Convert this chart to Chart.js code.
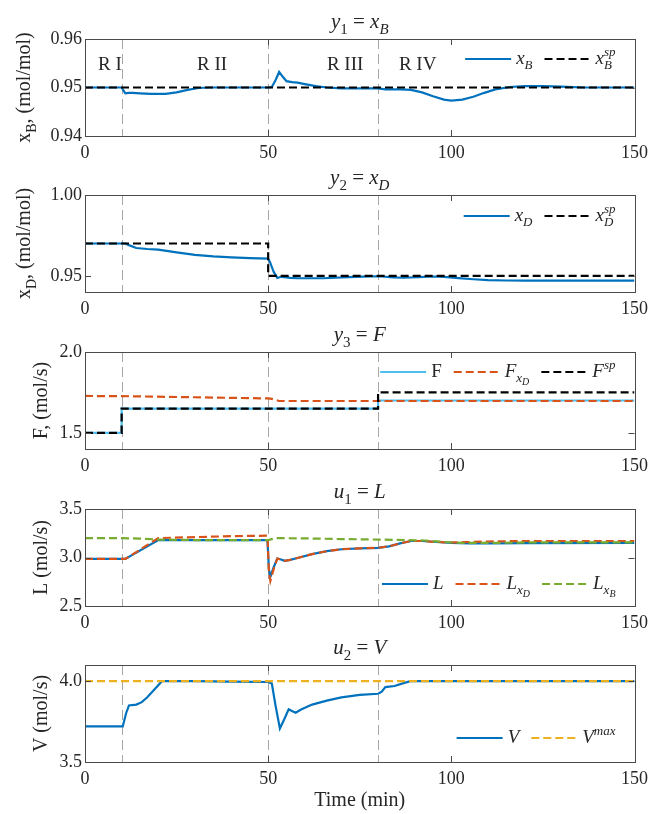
<!DOCTYPE html>
<html>
<head>
<meta charset="utf-8">
<script src="https://cdn.jsdelivr.net/npm/chart.js@4.4.0/dist/chart.umd.min.js"></script>
<style>
  body { margin: 0; background: #fff; width: 654px; height: 814px; position: relative; overflow: hidden; }
  canvas { position: absolute; left: 0; }
</style>
</head>
<body>
<canvas id="pXB"></canvas>
<canvas id="pXD"></canvas>
<canvas id="pF"></canvas>
<canvas id="pL"></canvas>
<canvas id="pV"></canvas>
<script>
// ---- data ----
const regionBounds = [10, 50, 80];
const regionNames = ['R I', 'R II', 'R III', 'R IV'];
const regionNameX = [6.8, 34.7, 71, 90.8];
const regionNameY = 0.9547;

const xTicks = [0, 50, 100, 150];

const tXB = [0, 10, 11, 12, 13, 15, 18, 22, 25, 28, 31, 34, 50, 51, 52, 53, 54, 55, 56.5, 58, 60, 63, 66, 70, 80, 82, 86, 89, 92, 95, 98, 100, 103, 106, 109, 112, 116, 120, 125, 130, 136, 150];
const xB  = [0.95, 0.95, 0.9488, 0.9489, 0.9489, 0.9488, 0.9487, 0.9487, 0.9490, 0.9495, 0.9499, 0.95, 0.95, 0.9501, 0.9515, 0.9532, 0.9522, 0.9513, 0.9511, 0.9510, 0.9507, 0.9503, 0.9500, 0.9498, 0.9498, 0.9496, 0.9496, 0.9495, 0.9490, 0.9482, 0.9475, 0.9473, 0.9475, 0.9481, 0.9489, 0.9496, 0.9501, 0.9503, 0.9503, 0.9502, 0.9500, 0.9500];
const tXBsp = [0, 150];
const xBsp  = [0.95, 0.95];

const tXD = [0, 11, 12, 14, 17, 20, 25, 30, 35, 40, 45, 50, 50.5, 51.5, 52.5, 53.5, 54.5, 56, 58, 65, 72, 78, 81, 84, 87, 91, 95, 98, 102, 106, 110, 115, 120, 130, 150];
const xD  = [0.97, 0.97, 0.969, 0.9672, 0.9666, 0.9662, 0.9645, 0.9630, 0.9620, 0.9614, 0.9610, 0.9607, 0.9585, 0.9525, 0.9487, 0.9494, 0.9492, 0.9487, 0.9485, 0.9485, 0.9492, 0.9497, 0.9496, 0.9490, 0.9488, 0.9492, 0.9496, 0.9494, 0.9486, 0.9479, 0.9474, 0.9471, 0.9470, 0.9470, 0.9470];
const tXDsp = [0, 50, 50, 150];
const xDsp  = [0.97, 0.97, 0.95, 0.95];

const tF = [0, 10, 10, 80, 80, 150];
const F  = [1.5, 1.5, 1.65, 1.65, 1.70, 1.70];
const tFxD = [0, 10, 30, 50, 51, 53, 80, 150];
const FxD  = [1.728, 1.727, 1.72, 1.713, 1.710, 1.697, 1.697, 1.697];
const tFsp = [0, 10, 10, 80, 80, 150];
const Fsp  = [1.5, 1.5, 1.65, 1.65, 1.75, 1.75];

const tL = [0, 11, 20, 30, 40, 49.8, 50.2, 50.6, 51.5, 52.5, 53.5, 54.5, 56, 58, 62, 66, 70, 75, 80, 83, 86, 89, 92, 96, 100, 105, 110, 120, 150];
const L   = [2.985, 2.985, 3.18, 3.18, 3.18, 3.18, 2.88, 2.80, 2.90, 2.99, 2.98, 2.965, 2.975, 2.995, 3.035, 3.065, 3.085, 3.095, 3.10, 3.115, 3.145, 3.17, 3.17, 3.16, 3.15, 3.145, 3.145, 3.148, 3.15];
const LxD = [2.985, 2.985, 3.20, 3.21, 3.22, 3.225, 2.86, 2.76, 2.88, 2.99, 2.98, 2.965, 2.975, 2.995, 3.035, 3.065, 3.085, 3.095, 3.10, 3.115, 3.145, 3.17, 3.17, 3.16, 3.155, 3.16, 3.165, 3.17, 3.17];
const tLxB = [0, 10, 15, 20, 30, 50, 51, 52, 60, 70, 80, 88, 93, 98, 103, 110, 120, 150];
const LxB  = [3.20, 3.20, 3.195, 3.185, 3.18, 3.18, 3.19, 3.20, 3.197, 3.19, 3.185, 3.18, 3.175, 3.16, 3.15, 3.15, 3.155, 3.155];

const tV = [0, 10.3, 11.2, 12, 14, 15.5, 17, 19, 21, 30, 40, 50, 51, 52, 53.2, 54.3, 55.6, 56.5, 57.5, 59, 62, 66, 70, 75, 80, 81, 82, 84.5, 86.5, 88.8, 150];
const V  = [3.72, 3.72, 3.80, 3.85, 3.855, 3.87, 3.90, 3.95, 4.0, 4.0, 3.997, 3.995, 3.985, 3.85, 3.707, 3.76, 3.826, 3.815, 3.805, 3.825, 3.855, 3.88, 3.90, 3.915, 3.922, 3.935, 3.963, 3.97, 3.985, 4.0, 4.0];
const tVmax = [0, 150];
const Vmax  = [4.0, 4.0];

// ---- styling / layout ----
const FONT = "'Liberation Serif','Times New Roman',serif";
const INK = '#262626';
const BLUE = '#0072BD', ORANGE = '#D95319', YELLOW = '#EDB120', GREEN = '#77AC30', SKY = '#4DBEEE';
const plotTops = [39, 195, 352, 509, 665];
const plotH = 97;
const padTop = 32;

const pts = (t, v) => t.map((x, i) => ({ x: x, y: v[i] }));

function line(t, v, color, dashed, math, order) {
    return {
        data: pts(t, v), borderColor: color, borderWidth: 2.2,
        borderDash: dashed ? [8, 4] : [], pointRadius: 0, tension: 0,
        fill: false, order: order, math: math
    };
}

// small math-text renderer: parts {t, i: italic, s: 'sub'|'sup'|'subsub', k: stack with next}
function partFont(p, size) {
    const f = (p.s === 'sub' || p.s === 'sup') ? 0.7 : p.s === 'subsub' ? 0.5 : 1;
    const dy = p.s === 'sub' ? 0.28 * size : p.s === 'sup' ? -0.42 * size : p.s === 'subsub' ? 0.45 * size : 0;
    return { font: (p.i ? 'italic ' : '') + Math.round(size * f) + 'px ' + FONT, dy: dy };
}
function layoutMath(ctx, parts, size) {
    let x = 0, stackX = null, stackW = 0;
    const items = [];
    parts.forEach(p => {
        const f = partFont(p, size);
        ctx.font = f.font;
        const w = ctx.measureText(p.t).width;
        if (stackX !== null) {
            items.push({ p: p, f: f, x: stackX });
            x = stackX + Math.max(stackW, w);
            stackX = null;
        } else if (p.k) {
            items.push({ p: p, f: f, x: x });
            stackX = x; stackW = w;
        } else {
            items.push({ p: p, f: f, x: x });
            x += w;
        }
    });
    return { items: items, width: x };
}
function drawMath(ctx, parts, x, y, size, align) {
    const lay = layoutMath(ctx, parts, size);
    const x0 = align === 'center' ? x - lay.width / 2 : align === 'right' ? x - lay.width : x;
    ctx.textAlign = 'left';
    ctx.textBaseline = 'alphabetic';
    lay.items.forEach(it => {
        ctx.font = it.f.font;
        ctx.fillText(it.p.t, x0 + it.x, y + it.f.dy);
    });
    return lay.width;
}

const panelPlugin = {
    id: 'panel',
    beforeDatasetsDraw(chart, args, o) {
        const { ctx, chartArea: a, scales: { x } } = chart;
        ctx.save();
        ctx.strokeStyle = '#a6a6a6';
        ctx.lineWidth = 1;
        ctx.setLineDash([10, 5]);
        regionBounds.forEach(b => {
            const px = Math.round(x.getPixelForValue(b)) + 0.5;
            ctx.beginPath(); ctx.moveTo(px, a.top); ctx.lineTo(px, a.bottom); ctx.stroke();
        });
        ctx.restore();
    },
    afterDatasetsDraw(chart, args, o) {
        const { ctx, chartArea: a, scales: { x, y } } = chart;
        ctx.save();
        // box + inward ticks
        ctx.strokeStyle = '#4a4a4a';
        ctx.lineWidth = 1;
        ctx.setLineDash([]);
        ctx.strokeRect(Math.round(a.left) + 0.5, Math.round(a.top) + 0.5, Math.round(a.right - a.left), Math.round(a.bottom - a.top));
        const tl = 6;
        ctx.beginPath();
        x.ticks.forEach(t => {
            const px = Math.round(x.getPixelForValue(t.value)) + 0.5;
            ctx.moveTo(px, a.bottom); ctx.lineTo(px, a.bottom - tl);
            ctx.moveTo(px, a.top); ctx.lineTo(px, a.top + tl);
        });
        y.ticks.forEach(t => {
            const py = Math.round(y.getPixelForValue(t.value)) + 0.5;
            ctx.moveTo(a.left, py); ctx.lineTo(a.left + tl, py);
            ctx.moveTo(a.right, py); ctx.lineTo(a.right - tl, py);
        });
        ctx.stroke();

        ctx.fillStyle = INK;
        // title
        drawMath(ctx, o.title, (a.left + a.right) / 2, a.top - 11, 21, 'center');

        // y label (rotated)
        ctx.save();
        ctx.translate(o.ylabelX, (a.top + a.bottom) / 2);
        ctx.rotate(-Math.PI / 2);
        drawMath(ctx, o.ylabel, 0, 0, 20, 'center');
        ctx.restore();

        // region names
        if (o.regions) {
            ctx.font = '19px ' + FONT;
            ctx.textAlign = 'center';
            ctx.textBaseline = 'middle';
            regionNames.forEach((n, i) => {
                ctx.fillText(n, x.getPixelForValue(regionNameX[i]), y.getPixelForValue(regionNameY));
            });
        }

        // legend
        const sample = 46, gapTxt = 5, gapItem = 12, lsize = 19;
        const items = chart.data.datasets.map(ds => ({ ds: ds, w: layoutMath(ctx, ds.math, lsize).width }));
        let total = 0;
        items.forEach((it, i) => { total += sample + gapTxt + it.w + (i ? gapItem : 0); });
        let lx = a.right - 19 - total;
        const ly = o.legendPos === 'bottom' ? a.bottom - o.legendOff : a.top + o.legendOff;
        items.forEach(it => {
            ctx.strokeStyle = it.ds.borderColor;
            ctx.lineWidth = 2.2;
            ctx.setLineDash(it.ds.borderDash);
            ctx.beginPath(); ctx.moveTo(lx, ly); ctx.lineTo(lx + sample, ly); ctx.stroke();
            ctx.setLineDash([]);
            lx += sample + gapTxt;
            ctx.fillStyle = INK;
            drawMath(ctx, it.ds.math, lx, ly + 0.25 * lsize, lsize, 'left');
            lx += it.w + gapItem;
        });
        ctx.restore();
    }
};

function panel(id, idx, datasets, yMin, yMax, yTicks, dec, o) {
    const last = idx === plotTops.length - 1;
    const h = padTop + plotH + (last ? 52 : 27);
    const cv = document.getElementById(id);
    cv.width = 654;
    cv.height = h;
    cv.style.top = (plotTops[idx] - padTop) + 'px';
    new Chart(cv, {
        type: 'line',
        data: { datasets: datasets },
        options: {
            responsive: false,
            animation: false,
            devicePixelRatio: 1,
            events: [],
            layout: { padding: { top: padTop, right: 19, left: 0, bottom: 0 } },
            plugins: { legend: { display: false }, tooltip: { enabled: false }, panel: o },
            scales: {
                x: {
                    type: 'linear', min: 0, max: 150,
                    grid: { display: false, drawTicks: false },
                    border: { display: false },
                    afterBuildTicks: s => { s.ticks = xTicks.map(v => ({ value: v })); },
                    ticks: { font: { family: FONT, size: 18 }, color: INK, padding: 6, maxRotation: 0 },
                    title: {
                        display: last, text: 'Time (min)', color: INK,
                        font: { family: FONT, size: 20 }, padding: { top: 0, bottom: 1 }
                    },
                    afterFit: s => { s.height = last ? 52 : 27; }
                },
                y: {
                    min: yMin, max: yMax,
                    grid: { display: false, drawTicks: false },
                    border: { display: false },
                    afterBuildTicks: s => { s.ticks = yTicks.map(v => ({ value: v })); },
                    ticks: {
                        font: { family: FONT, size: 18 }, color: INK, padding: 3,
                        callback: v => Number(v).toFixed(dec)
                    },
                    afterFit: s => { s.width = 85; }
                }
            }
        },
        plugins: [panelPlugin]
    });
}

const it = t => ({ t: t, i: true });
const sub = t => ({ t: t, i: true, s: 'sub' });

panel('pXB', 0, [
    line(tXB, xB, BLUE, false, [it('x'), sub('B')], 2),
    line(tXBsp, xBsp, '#000000', true, [it('x'), { t: 'sp', i: true, s: 'sup', k: true }, sub('B')], 1)
], 0.94, 0.96, [0.94, 0.95, 0.96], 2, {
    title: [it('y'), { t: '1', s: 'sub' }, { t: ' = ' }, it('x'), sub('B')],
    ylabel: [{ t: 'x' }, { t: 'B', s: 'sub' }, { t: ', (mol/mol)' }],
    ylabelX: 30, regions: true, legendPos: 'top', legendOff: 20
});

panel('pXD', 1, [
    line(tXD, xD, BLUE, false, [it('x'), sub('D')], 2),
    line(tXDsp, xDsp, '#000000', true, [it('x'), { t: 'sp', i: true, s: 'sup', k: true }, sub('D')], 1)
], 0.94, 1.00, [0.95, 1.00], 2, {
    title: [it('y'), { t: '2', s: 'sub' }, { t: ' = ' }, it('x'), sub('D')],
    ylabel: [{ t: 'x' }, { t: 'D', s: 'sub' }, { t: ', (mol/mol)' }],
    ylabelX: 30, legendPos: 'top', legendOff: 21
});

panel('pF', 2, [
    line(tF, F, SKY, false, [{ t: 'F' }], 3),
    line(tFxD, FxD, ORANGE, true, [it('F'), sub('x'), { t: 'D', i: true, s: 'subsub' }], 2),
    line(tFsp, Fsp, '#000000', true, [it('F'), { t: 'sp', i: true, s: 'sup' }], 1)
], 1.4, 2.0, [1.5, 2.0], 1, {
    title: [it('y'), { t: '3', s: 'sub' }, { t: ' = ' }, it('F')],
    ylabel: [{ t: 'F, (mol/s)' }],
    ylabelX: 47, legendPos: 'top', legendOff: 20
});

panel('pL', 3, [
    line(tL, L, BLUE, false, [it('L')], 3),
    line(tL, LxD, ORANGE, true, [it('L'), sub('x'), { t: 'D', i: true, s: 'subsub' }], 2),
    line(tLxB, LxB, GREEN, true, [it('L'), sub('x'), { t: 'B', i: true, s: 'subsub' }], 1)
], 2.5, 3.5, [2.5, 3.0, 3.5], 1, {
    title: [it('u'), { t: '1', s: 'sub' }, { t: ' = ' }, it('L')],
    ylabel: [{ t: 'L (mol/s)' }],
    ylabelX: 47, legendPos: 'bottom', legendOff: 22
});

panel('pV', 4, [
    line(tV, V, BLUE, false, [it('V')], 2),
    line(tVmax, Vmax, YELLOW, true, [it('V'), { t: 'max', i: true, s: 'sup' }], 1)
], 3.5, 4.1, [3.5, 4.0], 1, {
    title: [it('u'), { t: '2', s: 'sub' }, { t: ' = ' }, it('V')],
    ylabel: [{ t: 'V (mol/s)' }],
    ylabelX: 47, legendPos: 'bottom', legendOff: 24
});
</script>
</body>
</html>
